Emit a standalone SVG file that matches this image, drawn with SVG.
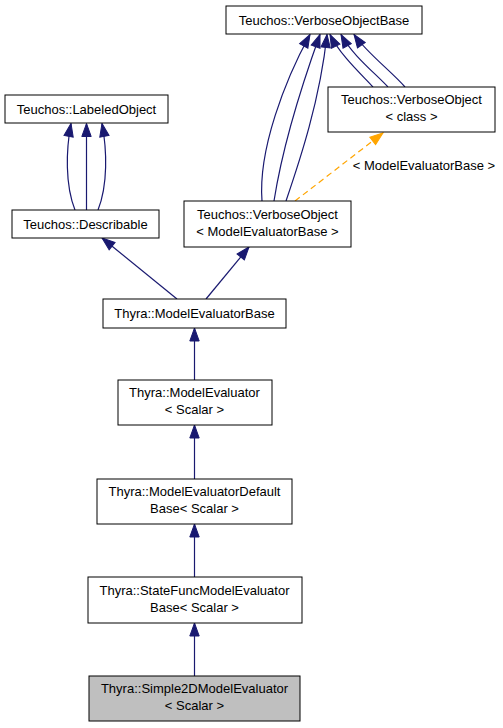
<svg xmlns="http://www.w3.org/2000/svg" width="503" height="728" viewBox="0 0 503 728">
<style>
.box{fill:#ffffff;stroke:#000000;stroke-width:1}
.hl{fill:#bfbfbf;stroke:#000000;stroke-width:1}
text{font-family:"Liberation Sans",Arial,sans-serif;font-size:13px;fill:#000000;text-anchor:middle}
.e{fill:none;stroke:#191970;stroke-width:1.2}
.d{fill:none;stroke:#ffa500;stroke-width:1.2;stroke-dasharray:6,4}
</style>
<defs>
<marker id="ah" markerUnits="userSpaceOnUse" markerWidth="16" markerHeight="12" refX="13" refY="5" orient="auto" overflow="visible">
<path d="M0,0.3 L13,5 L0,9.7 z" fill="#191970" stroke="#191970" stroke-width="1"/>
</marker>
<marker id="ao" markerUnits="userSpaceOnUse" markerWidth="16" markerHeight="12" refX="13" refY="5" orient="auto" overflow="visible">
<path d="M0,0.3 L13,5 L0,9.7 z" fill="#ffa500" stroke="#ffa500" stroke-width="1"/>
</marker>
</defs>
<rect width="503" height="728" fill="#ffffff"/>
<g id="edges">
<path class="e" d="M75,210 C65,185 66,150 71,123.5" marker-end="url(#ah)"/>
<path class="e" d="M86.5,210 L86.5,123.5" marker-end="url(#ah)"/>
<path class="e" d="M98,210 C108,185 107,150 102,123.5" marker-end="url(#ah)"/>
<path class="e" d="M262,201 C258,150 285,80 310,34.5" marker-end="url(#ah)"/>
<path class="e" d="M274,201 C282,150 300,90 320,34.5" marker-end="url(#ah)"/>
<path class="e" d="M286,201 C300,160 320,100 327,34.5" marker-end="url(#ah)"/>
<path class="e" d="M373,87 C362,75 340,55 330,34.5" marker-end="url(#ah)"/>
<path class="e" d="M388,87 C376,74 352,55 341,34.5" marker-end="url(#ah)"/>
<path class="e" d="M405,87 C392,72 366,52 354,34.5" marker-end="url(#ah)"/>
<path class="d" d="M295,201 L383,133" marker-end="url(#ao)"/>
<path class="e" d="M177,299 L102,238" marker-end="url(#ah)"/>
<path class="e" d="M206,299 L249,247" marker-end="url(#ah)"/>
<path class="e" d="M194.5,380 L194.5,328" marker-end="url(#ah)"/>
<path class="e" d="M194.5,479 L194.5,425" marker-end="url(#ah)"/>
<path class="e" d="M194.5,577 L194.5,524" marker-end="url(#ah)"/>
<path class="e" d="M194.5,676 L194.5,623" marker-end="url(#ah)"/>
<text x="424" y="170">&lt; ModelEvaluatorBase &gt;</text>
</g>
<g id="VerboseObjectBase"><rect class="box" x="226" y="6" width="196" height="28"/><text x="324" y="24.5">Teuchos::VerboseObjectBase</text></g>
<g id="VerboseObjectClass"><rect class="box" x="328" y="87" width="167" height="45"/><text x="411.5" y="104">Teuchos::VerboseObject</text><text x="411.5" y="121">&lt; class &gt;</text></g>
<g id="LabeledObject"><rect class="box" x="5" y="95" width="163" height="28"/><text x="86.5" y="113.5">Teuchos::LabeledObject</text></g>
<g id="Describable"><rect class="box" x="12" y="210" width="147" height="28"/><text x="85.5" y="228.5">Teuchos::Describable</text></g>
<g id="VerboseObjectMEB"><rect class="box" x="184" y="201" width="167" height="46"/><text x="267.5" y="218.5">Teuchos::VerboseObject</text><text x="267.5" y="235.5">&lt; ModelEvaluatorBase &gt;</text></g>
<g id="ModelEvaluatorBase"><rect class="box" x="103" y="299" width="183" height="29"/><text x="194.5" y="318">Thyra::ModelEvaluatorBase</text></g>
<g id="ModelEvaluator"><rect class="box" x="118" y="380" width="154" height="45"/><text x="194.5" y="397">Thyra::ModelEvaluator</text><text x="194.5" y="414">&lt; Scalar &gt;</text></g>
<g id="ModelEvaluatorDefaultBase"><rect class="box" x="97" y="479" width="195" height="45"/><text x="194.5" y="496">Thyra::ModelEvaluatorDefault</text><text x="194.5" y="513">Base&lt; Scalar &gt;</text></g>
<g id="StateFuncModelEvaluatorBase"><rect class="box" x="88" y="577" width="214" height="46"/><text x="194.5" y="594.5">Thyra::StateFuncModelEvaluator</text><text x="194.5" y="611.5">Base&lt; Scalar &gt;</text></g>
<g id="Simple2DModelEvaluator"><rect class="hl" x="89" y="676" width="211" height="45"/><text x="194.5" y="693">Thyra::Simple2DModelEvaluator</text><text x="194.5" y="710">&lt; Scalar &gt;</text></g>
</svg>
